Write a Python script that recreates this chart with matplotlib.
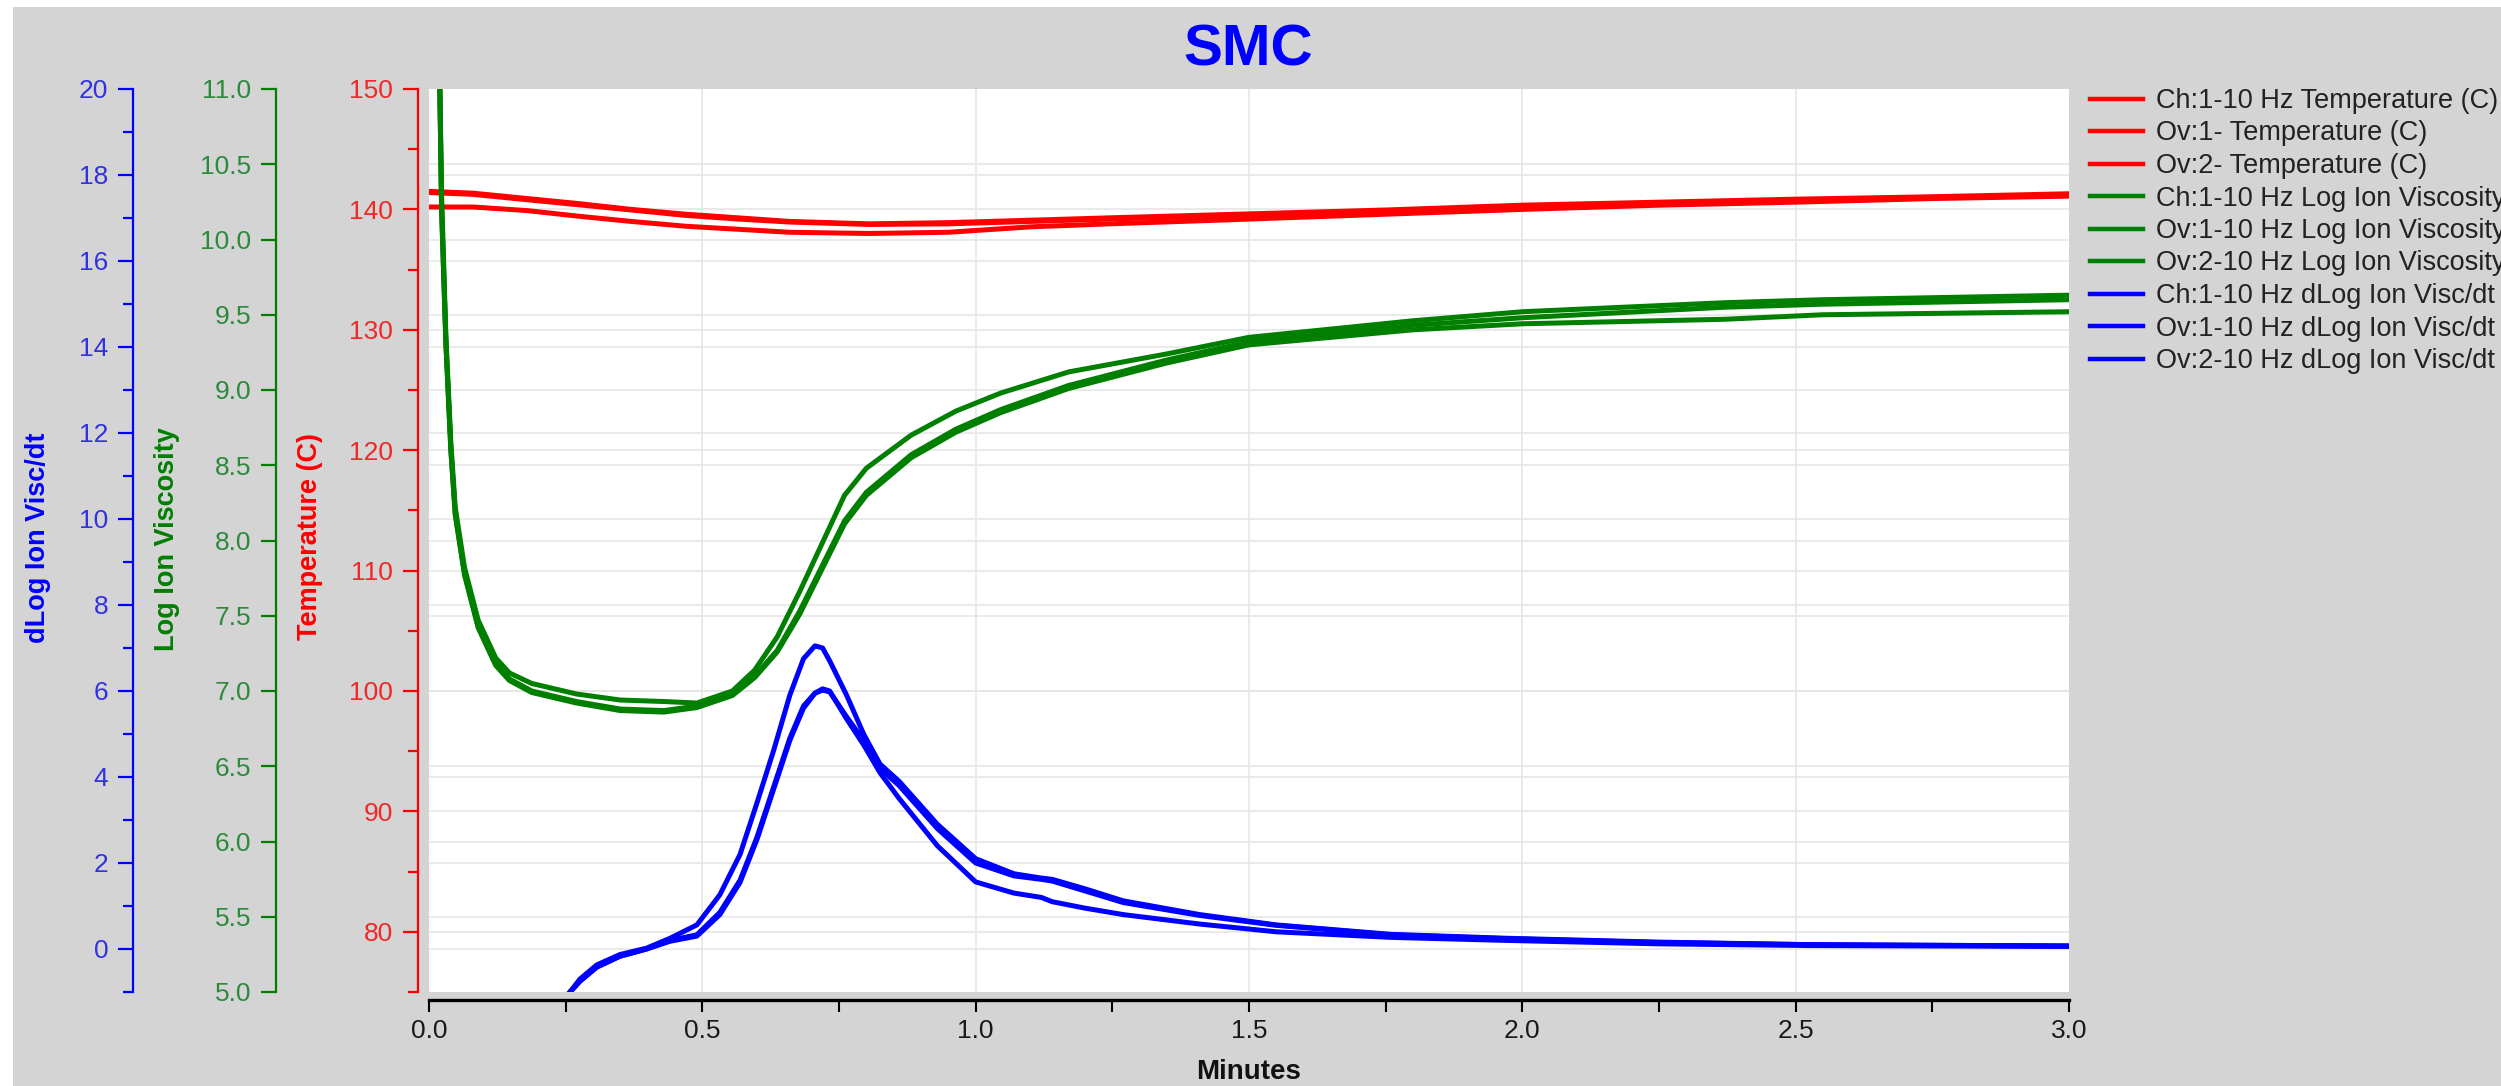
import matplotlib
matplotlib.use('Agg')
import matplotlib.pyplot as plt
from matplotlib.patches import Rectangle
from matplotlib.transforms import blended_transform_factory
from matplotlib.ticker import MultipleLocator

plt.rcParams['font.family'] = ['Liberation Sans', 'DejaVu Sans']

# ---------------- data ----------------
t_temp = [0, 0.08, 0.18, 0.27, 0.37, 0.47, 0.565, 0.66, 0.805, 0.95, 1.10, 1.245,
          1.44, 1.75, 2.0, 2.25, 2.5, 2.75, 3.0]
temp_ch = [141.5, 141.35, 140.9, 140.5, 140.0, 139.6, 139.3, 139.0, 138.8, 138.9, 139.1,
           139.3, 139.55, 139.95, 140.35, 140.6, 140.85, 141.05, 141.3]
temp_ov1 = [141.4, 141.25, 140.8, 140.4, 139.95, 139.5, 139.2, 138.95, 138.75, 138.8, 139.0,
            139.2, 139.45, 139.85, 140.25, 140.5, 140.75, 141.0, 141.2]
temp_ov2 = [140.2, 140.2, 139.9, 139.45, 139.0, 138.6, 138.35, 138.1, 138.0, 138.1, 138.55,
            138.8, 139.1, 139.6, 140.0, 140.35, 140.6, 140.9, 141.1]

t_visc = [0.018, 0.020, 0.023, 0.031, 0.04, 0.048, 0.065, 0.09, 0.122, 0.147, 0.188,
          0.27, 0.35, 0.43, 0.49, 0.555, 0.596, 0.637, 0.678, 0.719, 0.76, 0.80,
          0.882, 0.964, 1.046, 1.17, 1.35, 1.5, 1.8, 2.0, 2.37, 2.55, 3.0]
visc_ch = [11.6, 11.0, 10.3, 9.35, 8.65, 8.22, 7.82, 7.47, 7.22, 7.12, 7.05,
           6.98, 6.94, 6.93, 6.92, 7.0, 7.14, 7.36, 7.66, 7.98, 8.3, 8.48,
           8.7, 8.86, 8.98, 9.12, 9.24, 9.35, 9.46, 9.52, 9.58, 9.60, 9.63]
visc_ov1 = [11.6, 10.95, 10.2, 9.3, 8.6, 8.18, 7.78, 7.43, 7.18, 7.08, 7.0,
            6.93, 6.88, 6.87, 6.9, 6.98, 7.1, 7.27, 7.53, 7.83, 8.13, 8.32,
            8.57, 8.74, 8.87, 9.03, 9.2, 9.32, 9.43, 9.48, 9.55, 9.57, 9.60]
visc_ov2 = [11.6, 10.95, 10.2, 9.3, 8.6, 8.17, 7.77, 7.42, 7.17, 7.07, 6.99,
            6.92, 6.87, 6.86, 6.89, 6.97, 7.09, 7.26, 7.51, 7.81, 8.11, 8.3,
            8.55, 8.72, 8.85, 9.01, 9.18, 9.3, 9.4, 9.44, 9.47, 9.5, 9.52]

t_dv = [0.258, 0.276, 0.307, 0.349, 0.398, 0.441, 0.49, 0.532, 0.569, 0.600,
        0.630, 0.660, 0.685, 0.706, 0.72, 0.733, 0.764, 0.795, 0.825, 0.86,
        0.93, 1.0, 1.07, 1.12, 1.14, 1.2, 1.27, 1.41, 1.55, 1.76,
        1.97, 2.25, 2.53, 3.0]
dv_ch = [-1.0, -0.7, -0.37, -0.13, 0.02, 0.25, 0.56, 1.26, 2.2, 3.4,
         4.6, 5.9, 6.75, 7.05, 7.0, 6.7, 5.9, 5.0, 4.3, 3.9,
         2.9, 2.1, 1.75, 1.65, 1.62, 1.4, 1.12, 0.8, 0.56, 0.34,
         0.25, 0.16, 0.1, 0.07]
dv_ov1 = [-1.0, -0.75, -0.42, -0.17, 0.0, 0.2, 0.33, 0.85, 1.6, 2.6,
          3.75, 4.9, 5.65, 5.95, 6.02, 5.98, 5.4, 4.85, 4.2, 3.8,
          2.8, 2.0, 1.7, 1.62, 1.58, 1.35, 1.08, 0.78, 0.55, 0.33,
          0.24, 0.15, 0.1, 0.07]
dv_ov2 = [-1.0, -0.75, -0.42, -0.17, 0.0, 0.18, 0.3, 0.8, 1.55, 2.55,
          3.7, 4.85, 5.6, 5.95, 6.05, 6.0, 5.35, 4.75, 4.1, 3.5,
          2.4, 1.56, 1.3, 1.2, 1.1, 0.95, 0.8, 0.58, 0.4, 0.27,
          0.2, 0.12, 0.08, 0.06]

labels = ['Ch:1-10 Hz Temperature (C)', 'Ov:1- Temperature (C)', 'Ov:2- Temperature (C)',
          'Ch:1-10 Hz Log Ion Viscosity', 'Ov:1-10 Hz Log Ion Viscosity',
          'Ov:2-10 Hz Log Ion Viscosity', 'Ch:1-10 Hz dLog Ion Visc/dt',
          'Ov:1-10 Hz dLog Ion Visc/dt', 'Ov:2-10 Hz dLog Ion Visc/dt']

# ---------------- styling ----------------
W, H = 2501, 1086
RED, GREEN, BLUE = '#ff0000', '#007f00', '#0000ff'
RED_T, GREEN_T, BLUE_T = '#f02828', '#2c8a3c', '#3232e0'
GRID = '#e6e6e6'
BG = '#d4d4d4'
LW = 3.6

fig = plt.figure(figsize=(W / 100, H / 100), dpi=100, facecolor='white')
fig.patches.append(Rectangle((13 / W, 0), 1, 1 - 7 / H, transform=fig.transFigure,
                             facecolor=BG, edgecolor='none', zorder=-10))

left, right, top, bottom = 429, 2069, 89, 992
host = fig.add_axes([left / W, 1 - bottom / H, (right - left) / W, (bottom - top) / H])
host.set_facecolor('white')
ax_g = host.twinx()
ax_b = host.twinx()

host.set_xlim(0, 3)
host.set_ylim(75, 150)
ax_g.set_ylim(5, 11)
ax_b.set_ylim(-1, 20)

px = 0.72  # points per pixel
for ax, col, tcol, off in [(host, RED, RED_T, 11), (ax_g, GREEN, GREEN_T, 153),
                           (ax_b, BLUE, BLUE_T, 296)]:
    for s in ['top', 'right']:
        ax.spines[s].set_visible(False)
    ax.spines['left'].set_visible(True)
    ax.spines['left'].set_position(('outward', off * px))
    ax.spines['left'].set_color(col)
    ax.spines['left'].set_linewidth(1.6)
    ax.yaxis.set_ticks_position('left')
    ax.tick_params(axis='y', which='major', direction='out', length=15 * px, width=1.6,
                   color=col, labelcolor=tcol, labelsize=19, pad=7)
    ax.tick_params(axis='y', which='minor', direction='out', length=10 * px, width=1.6,
                   color=col)
for ax in (ax_g, ax_b):
    ax.spines['bottom'].set_visible(False)

host.yaxis.set_minor_locator(MultipleLocator(5))
host.set_yticks([80, 90, 100, 110, 120, 130, 140, 150])
ax_g.set_yticks([5.0 + 0.5 * i for i in range(13)])
ax_g.set_yticklabels([f'{5.0 + 0.5 * i:.1f}' for i in range(13)])
ax_b.set_yticks(list(range(0, 21, 2)))
ax_b.yaxis.set_minor_locator(MultipleLocator(1))

# x axis
host.spines['bottom'].set_position(('outward', 8 * px))
host.spines['bottom'].set_color('black')
host.spines['bottom'].set_linewidth(2.4)
host.set_xticks([0, 0.5, 1.0, 1.5, 2.0, 2.5, 3.0])
host.set_xticklabels(['0.0', '0.5', '1.0', '1.5', '2.0', '2.5', '3.0'])
host.xaxis.set_minor_locator(MultipleLocator(0.25))
host.tick_params(axis='x', which='both', direction='out', length=12 * px, width=1.5,
                 color='black', labelcolor='#1a1a1a', labelsize=19, pad=5)

# grid lines (all drawn in the host, beneath data)
for xv in [0.5, 1.0, 1.5, 2.0, 2.5]:
    host.axvline(xv, color=GRID, lw=1.2, zorder=0.5)
for ax, ticks in [(host, [80, 90, 100, 110, 120, 130, 140]),
                  (ax_g, [5.5 + 0.5 * i for i in range(11)]),
                  (ax_b, list(range(0, 20, 2)))]:
    tr = blended_transform_factory(host.transAxes, ax.transData)
    for v in ticks:
        host.plot([0, 1], [v, v], transform=tr, color=GRID, lw=1.2, zorder=0.5)

# data
h = []
h += host.plot(t_temp, temp_ch, color=RED, lw=LW, zorder=3)
h += host.plot(t_temp, temp_ov1, color=RED, lw=LW, zorder=3)
h += host.plot(t_temp, temp_ov2, color=RED, lw=LW, zorder=3)
h += ax_g.plot(t_visc, visc_ch, color=GREEN, lw=LW)
h += ax_g.plot(t_visc, visc_ov1, color=GREEN, lw=LW)
h += ax_g.plot(t_visc, visc_ov2, color=GREEN, lw=LW)
h += ax_b.plot(t_dv, dv_ch, color=BLUE, lw=LW)
h += ax_b.plot(t_dv, dv_ov1, color=BLUE, lw=LW)
h += ax_b.plot(t_dv, dv_ov2, color=BLUE, lw=LW)

# axis labels
fig.text(38 / W, 1 - 538 / H, 'dLog Ion Visc/dt', rotation=90, color=BLUE,
         fontsize=19.5, fontweight='bold', ha='center', va='center')
fig.text(167 / W, 1 - 539 / H, 'Log Ion Viscosity', rotation=90, color=GREEN,
         fontsize=19.5, fontweight='bold', ha='center', va='center')
fig.text(310 / W, 1 - 537 / H, 'Temperature (C)', rotation=90, color=RED,
         fontsize=19.5, fontweight='bold', ha='center', va='center')
fig.text(1249 / W, 1 - 1072 / H, 'Minutes', color='#111111', fontsize=20,
         fontweight='bold', ha='center', va='center')
fig.text(1248 / W, 1 - 51 / H, 'SMC', color=BLUE, fontsize=42, fontweight='bold',
         ha='center', va='center')

leg = fig.legend(h, labels, loc='upper left', bbox_to_anchor=(2090 / W, 1 - 88 / H),
                 frameon=False, fontsize=19.5, handlelength=1.95, handletextpad=0.5,
                 labelspacing=0.24, borderpad=0, borderaxespad=0, labelcolor='#222222')
for line in leg.get_lines():
    line.set_linewidth(3.2)

fig.savefig('out.png', dpi=100, facecolor=fig.get_facecolor())
